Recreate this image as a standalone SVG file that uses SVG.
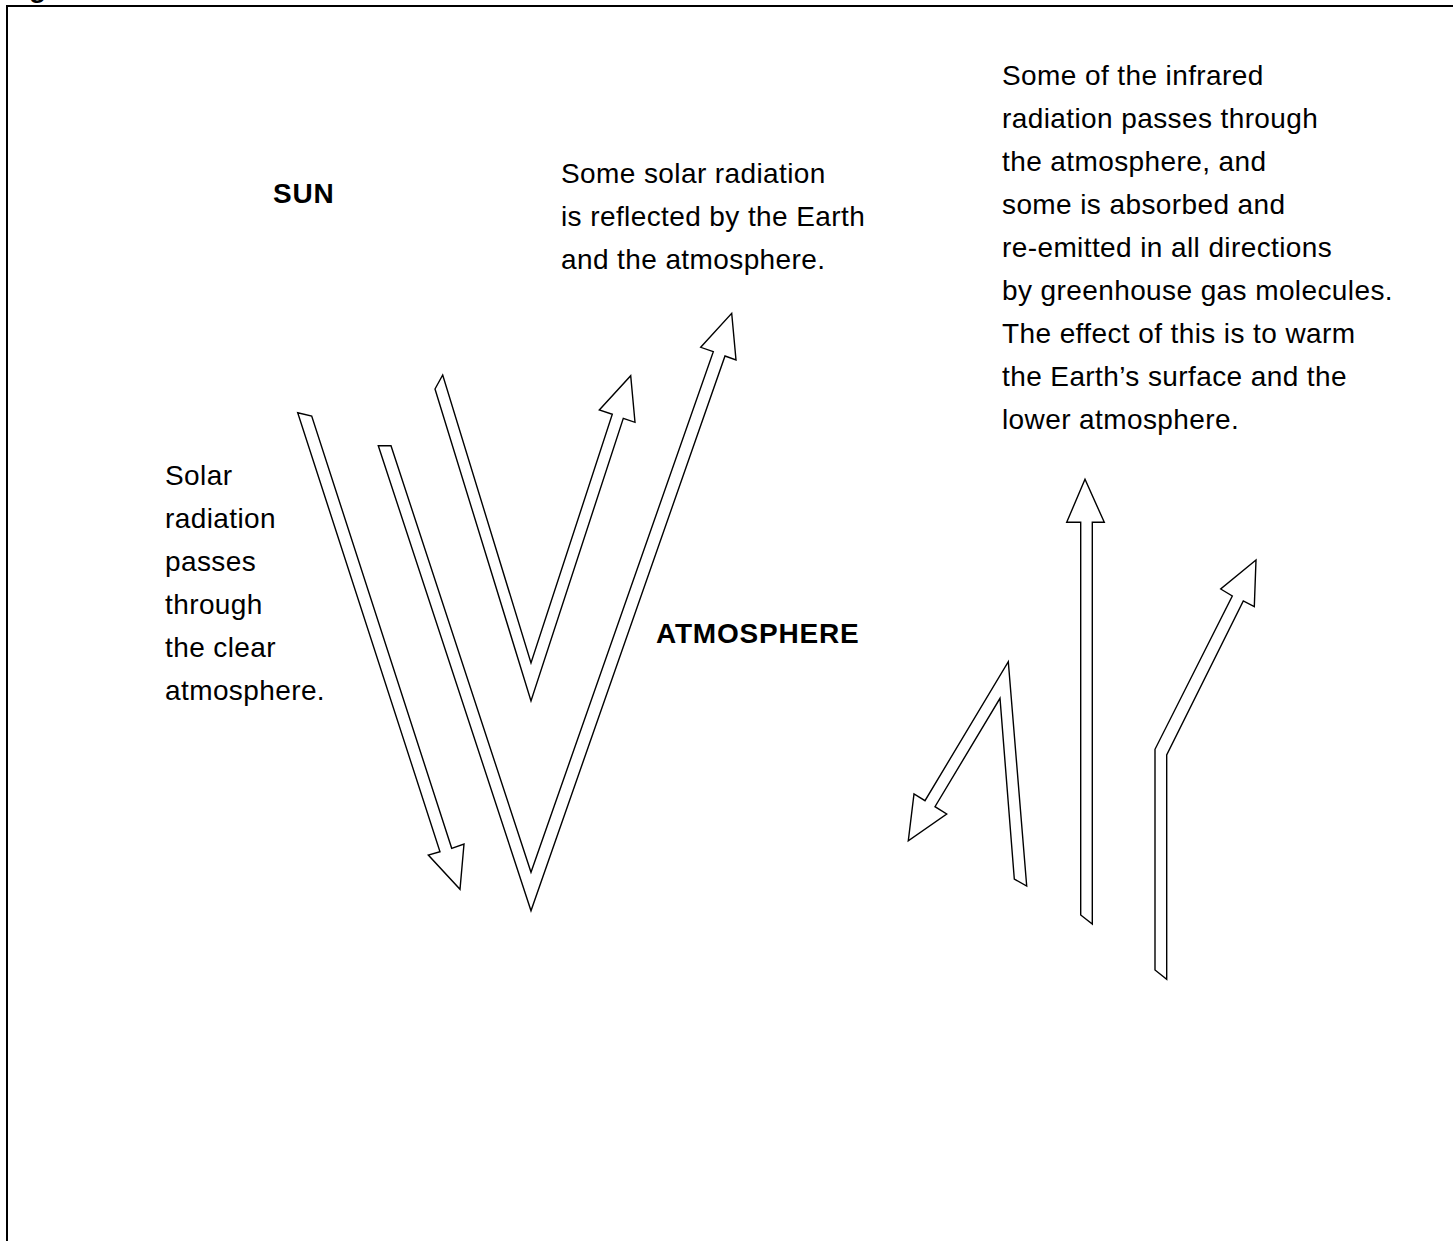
<svg xmlns="http://www.w3.org/2000/svg" width="1453" height="1241" viewBox="0 0 1453 1241">
<style>
.t{font-family:"Liberation Sans",Arial,sans-serif;font-size:28px;letter-spacing:0.4px;fill:#000}
.b{font-weight:bold;letter-spacing:0.8px}
.a{fill:#fff;stroke:#000;stroke-width:1.4;stroke-linejoin:miter}
</style>
<rect x="0" y="0" width="1453" height="1241" fill="#fff"/>
<rect x="7" y="6" width="1470" height="1260" fill="none" stroke="#000" stroke-width="2"/>
<text class="t b" x="29" y="-3">g</text>
<g id="sun"><text class="t b" x="273" y="203">SUN</text></g>
<g id="atmosphere"><text class="t b" x="656" y="643">ATMOSPHERE</text></g>
<g id="solar-text">
<text class="t" x="165" y="485">Solar</text>
<text class="t" x="165" y="528">radiation</text>
<text class="t" x="165" y="571">passes</text>
<text class="t" x="165" y="614">through</text>
<text class="t" x="165" y="657">the clear</text>
<text class="t" x="165" y="700">atmosphere.</text>
</g>
<g id="reflect-text">
<text class="t" x="561" y="183">Some solar radiation</text>
<text class="t" x="561" y="226">is reflected by the Earth</text>
<text class="t" x="561" y="269">and the atmosphere.</text>
</g>
<g id="infrared-text">
<text class="t" x="1002" y="85">Some of the infrared</text>
<text class="t" x="1002" y="128">radiation passes through</text>
<text class="t" x="1002" y="171">the atmosphere, and</text>
<text class="t" x="1002" y="214">some is absorbed and</text>
<text class="t" x="1002" y="257">re-emitted in all directions</text>
<text class="t" x="1002" y="300">by greenhouse gas molecules.</text>
<text class="t" x="1002" y="343">The effect of this is to warm</text>
<text class="t" x="1002" y="386">the Earth’s surface and the</text>
<text class="t" x="1002" y="429">lower atmosphere.</text>
</g>
<g id="connectors">
<polygon class="a" points="297.7,412.7 311.7,416 451.7,848.3 464,844 460,889.3 428.3,855 440,851.7"/>
<polygon class="a" points="378.3,445.7 531,910.7 725,356 736,360 731.7,313.3 700.7,347.3 713.3,351.7 531,872.3 391,445.7"/>
<polygon class="a" points="435,389 531,701 623.3,418.3 635,422.3 630.7,375.7 599.3,410 612.3,414.3 531,663 442.7,375"/>
<polygon class="a" points="1014.3,879 1000,698.3 935,806.7 946.7,814 908.3,840.7 914,794 925,800.7 1008.3,661.7 1026.7,886"/>
<polygon class="a" points="1080.7,915 1080.7,522.3 1066.7,522.3 1085,479.3 1104.3,522.3 1092.3,522.3 1092.3,924"/>
<polygon class="a" points="1155,970 1155,749.3 1232.3,596 1220.7,589 1256,560 1254.3,606.7 1243.3,601 1166.7,755 1166.7,979.3"/>
</g>
</svg>
